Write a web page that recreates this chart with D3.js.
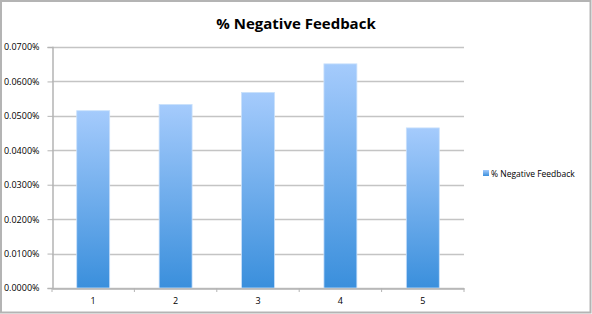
<!DOCTYPE html>
<html><head><meta charset="utf-8">
<script src="https://cdn.jsdelivr.net/npm/d3@7"></script>
<style>body{margin:0;background:#fff}svg{display:block}</style>
</head><body>
<script>
const categories = ["1","2","3","4","5"];
const values = [0.0515, 0.0533, 0.0568, 0.0651, 0.0465];
const yTicks = [0, 0.01, 0.02, 0.03, 0.04, 0.05, 0.06, 0.07];
const seriesName = "% Negative Feedback";
const title = "% Negative Feedback";

const W = 592, H = 314;
const svg = d3.select("body").append("svg").attr("width", W).attr("height", H);
const defs = svg.append("defs");
const g = defs.append("linearGradient").attr("id","barGrad").attr("x1",0).attr("y1",0).attr("x2",0).attr("y2",1);
g.append("stop").attr("offset","0%").attr("stop-color","#a5cbfc");
g.append("stop").attr("offset","100%").attr("stop-color","#3a8fdc");

svg.append("rect").attr("x",1).attr("y",1).attr("width",W-2.5).attr("height",H-2.5)
  .attr("fill","#fff").attr("stroke","#b4b4b4").attr("stroke-width",2);

const plot = {l:52, r:464, t:47, b:288};
const x = d3.scaleBand().domain(categories).range([plot.l, plot.r]).paddingInner(0.6).paddingOuter(0.3);
const xb = d3.scaleBand().domain(categories).range([plot.l, plot.r]);
const y = d3.scaleLinear().domain([0, 0.07]).range([plot.b, plot.t]);

svg.append("g").selectAll("line").data(yTicks).join("line")
  .attr("x1", plot.l).attr("x2", plot.r).attr("y1", d=>Math.round(y(d))+0.5).attr("y2", d=>Math.round(y(d))+0.5)
  .attr("stroke","#c4c4c4").attr("stroke-width",1.5);

const yAxis = d3.axisLeft(y).tickValues(yTicks).tickFormat(d=>d3.format(".4f")(d)+"%").tickSize(5).tickPadding(8);
const ya = svg.append("g").attr("transform",`translate(${plot.l+0.5},0)`).call(yAxis);
ya.select(".domain").attr("stroke","#b4b4b4").attr("stroke-width",1.5);
ya.selectAll(".tick line").attr("stroke","#b4b4b4");
ya.selectAll("text").attr("font-family","'Open Sans', sans-serif").attr("font-size",9).attr("fill","#000");

svg.append("g").selectAll("rect").data(values).join("rect")
  .attr("x",(d,i)=>x(categories[i])).attr("width",x.bandwidth())
  .attr("y",d=>y(d)).attr("height",d=>plot.b-y(d))
  .attr("fill","url(#barGrad)").attr("stroke","#c9e0fb").attr("stroke-width",0.8);

const xAxis = d3.axisBottom(xb).tickSize(0).tickPadding(9);
const xa = svg.append("g").attr("transform",`translate(0,${plot.b+0.5})`).call(xAxis);
xa.select(".domain").attr("stroke","#b4b4b4").attr("stroke-width",1.5);
xa.selectAll("text").attr("font-family","'Open Sans', sans-serif").attr("font-size",9).attr("fill","#000");
svg.append("g").selectAll("line").data(categories.concat(["end"])).join("line")
  .attr("x1",(d,i)=>plot.l + i*xb.step()).attr("x2",(d,i)=>plot.l + i*xb.step())
  .attr("y1",plot.b).attr("y2",plot.b+4).attr("stroke","#b4b4b4");

svg.append("text").attr("x",296).attr("y",29).attr("text-anchor","middle")
  .attr("font-family","'Open Sans', sans-serif").attr("font-weight","bold").attr("font-size",15)
  .text(title);

svg.append("rect").attr("x",483).attr("y",170).attr("width",6).attr("height",6).attr("fill","url(#barGrad)");
svg.append("text").attr("x",491).attr("y",176.5).attr("font-family","'Open Sans', sans-serif").attr("font-size",8.5)
  .text(seriesName);
</script>
</body></html>
